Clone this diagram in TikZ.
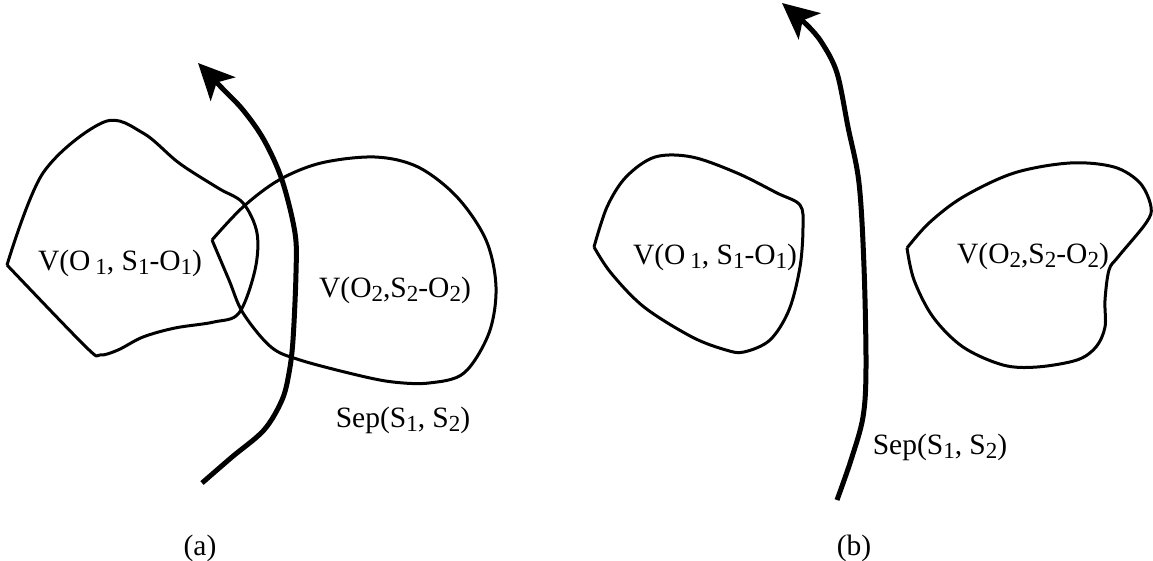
\documentclass[tikz,border=0pt]{standalone}
\usepackage{fontspec}
\setmainfont{Liberation Serif}
\usetikzlibrary{arrows.meta}
\newcommand\sbx[1]{\raisebox{-0.35ex}{\fontsize{23}{23}\selectfont #1}}
\begin{document}
\begin{tikzpicture}[x=1pt,y=-1pt,
  blob/.style={line width=3pt, line join=round},
  sepline/.style={line width=5pt, -{Stealth[length=36pt,width=34pt,inset=9pt]}},
  lbl/.style={font=\fontsize{29.5}{30}\selectfont, inner sep=0pt}]
\useasboundingbox (0,0) rectangle (1153,560);
% ---------- (a) ----------
\draw[blob] plot[smooth, tension=0.55] coordinates {(7,265) (43,173) (104,122) (143,133) (179,163) (218,188) (243,203) (257,233) (255,270) (239,313) (214,322) (175,328) (143,337) (118,350) (100,355) (86,347) (7,265)};
\draw[blob] plot[smooth, tension=0.55] coordinates {(212,240) (243,207) (279,180) (321,163) (375,157) (418,167) (457,197) (486,240) (496,287) (489,333) (464,373) (429,383) (393,382) (357,375) (300,360) (271,347) (243,313) (229,280) (212,240)};
\draw[sepline] plot[smooth, tension=0.55] coordinates {(202,483) (232,457) (264,430) (282,400) (289,373) (293,340) (296,273) (295,233) (282,180) (264,140) (243,110) (221,87) (198,63)};
\node[lbl] (va1) at (120,263) {V(O\,\sbx{1}, S\sbx{1}-O\sbx{1})};
\node[lbl] (va2) at (395,290) {V(O\sbx{2},S\sbx{2}-O\sbx{2})};
\node[lbl] (sa) at (403,420) {Sep(S\sbx{1}, S\sbx{2})};
\node[lbl] (ca) at (200,548) {(a)};
% ---------- (b) ----------
\draw[blob] plot[smooth, tension=0.55] coordinates {(594,247) (607,207) (626,177) (655,157) (692,157) (737,173) (777,193) (800,205) (803,227) (800,267) (789,310) (770,340) (744,352) (726,350) (692,337) (644,307) (611,273) (594,247)};
\draw[blob] plot[smooth, tension=0.55] coordinates {(907,248) (929,223) (963,197) (1014,173) (1070,163) (1114,167) (1140,183) (1151,207) (1146,223) (1118,257) (1109,270) (1105,300) (1105,327) (1096,347) (1077,360) (1037,367) (1003,365) (963,347) (933,317) (914,280) (907,248)};
\draw[sepline] plot[smooth, tension=0.55] coordinates {(837,500) (851,460) (863,417) (866,367) (864,267) (859,183) (848,127) (837,73) (822,43) (807,25) (782,3)};
\node[lbl] (vb1) at (715,257) {V(O\,\sbx{1}, S\sbx{1}-O\sbx{1})};
\node[lbl] (vb2) at (1033,256) {V(O\sbx{2},S\sbx{2}-O\sbx{2})};
\node[lbl] (sb) at (940,447) {Sep(S\sbx{1}, S\sbx{2})};
\node[lbl] (cb) at (854,548) {(b)};
\end{tikzpicture}
\end{document}
